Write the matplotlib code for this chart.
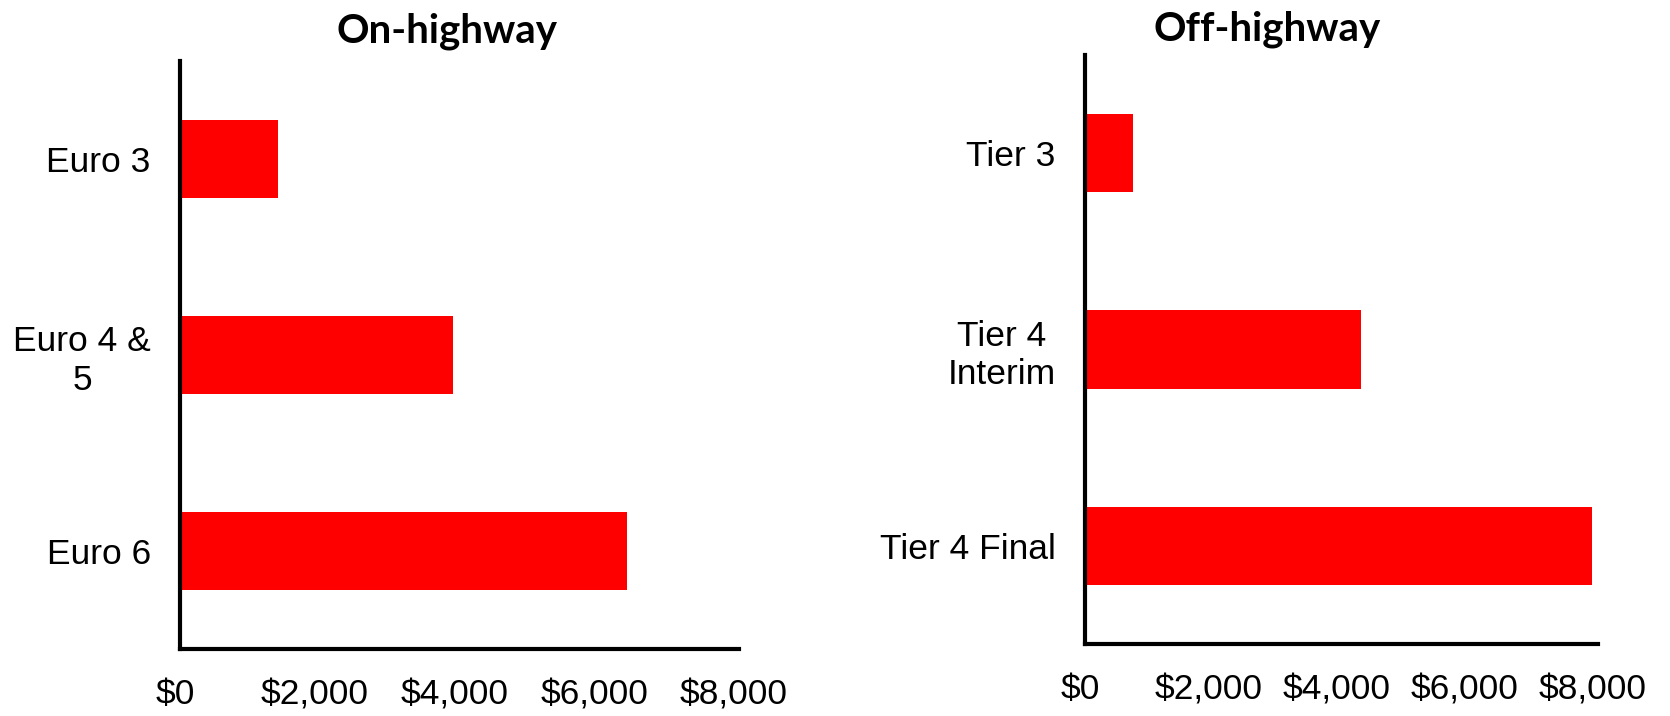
import matplotlib
matplotlib.use("Agg")
import matplotlib.pyplot as plt
import matplotlib.transforms as mtransforms

# data
on_labels = ["Euro 3", "Euro 4 &\n5", "Euro 6"]
on_values = [1400, 3900, 6400]
off_labels = ["Tier 3", "Tier 4\nInterim", "Tier 4 Final"]
off_values = [750, 4300, 7900]
x_ticks = [0, 2000, 4000, 6000, 8000]
x_ticklabels = ["$0", "$2,000", "$4,000", "$6,000", "$8,000"]

plt.rcParams["font.family"] = ["Liberation Sans", "DejaVu Sans"]

fig = plt.figure(figsize=(16.7, 7.16), dpi=100)
ax_on = fig.add_axes([0.1078, 0.0936, 0.3347, 0.8212])
ax_off = fig.add_axes([0.6497, 0.1006, 0.3072, 0.8226])


def draw(ax, labels, values):
    pos = list(range(len(labels)))
    ax.barh(pos, values, height=0.4, color="#ff0000")
    ax.set_ylim(len(labels) - 0.5, -0.5)
    ax.set_xlim(0, 8000)
    ax.set_yticks(pos)
    ax.set_yticklabels(labels, fontsize=25.5, multialignment="center")
    ax.set_xticks(x_ticks)
    ax.set_xticklabels(x_ticklabels, fontsize=25.5)
    ax.tick_params(axis="both", length=0)
    ax.tick_params(axis="y", pad=21)
    ax.tick_params(axis="x", pad=21)
    for s in ["top", "right"]:
        ax.spines[s].set_visible(False)
    for s in ["left", "bottom"]:
        ax.spines[s].set_linewidth(3)
        ax.spines[s].set_color("black")
    # labels sit a few pixels left of their ticks in the original
    shift = mtransforms.ScaledTranslation(-5 / 100, 0, fig.dpi_scale_trans)
    for lab in ax.get_xticklabels():
        lab.set_transform(lab.get_transform() + shift)


draw(ax_on, on_labels, on_values)
draw(ax_off, off_labels, off_values)

fig.text(447 / 1670, 1 - 42 / 716, "On-highway", ha="center", va="baseline",
         fontsize=29, fontweight="bold", family="Lato")
fig.text(1267 / 1670, 1 - 40 / 716, "Off-highway", ha="center", va="baseline",
         fontsize=29, fontweight="bold", family="Lato")

fig.savefig("out.png", dpi=100, facecolor="white")
